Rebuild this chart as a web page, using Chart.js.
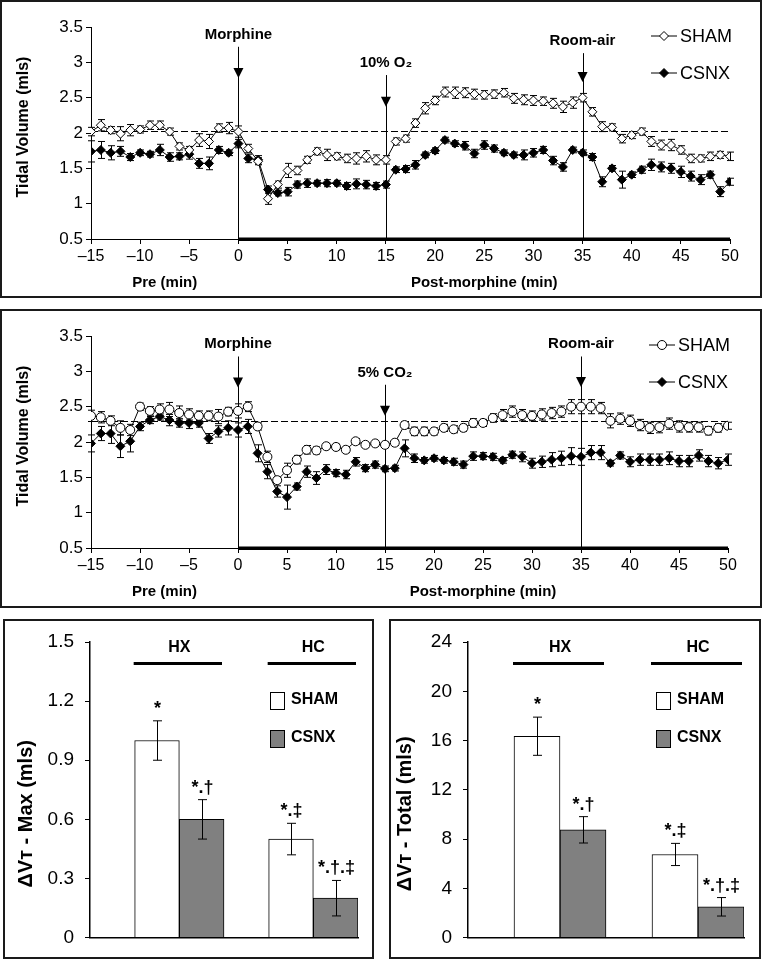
<!DOCTYPE html>
<html>
<head>
<meta charset="utf-8">
<title>Tidal volume responses</title>
<script src="https://cdn.jsdelivr.net/npm/chart.js@4.4.1/dist/chart.umd.min.js"></script>
<style>
  html, body { margin: 0; padding: 0; background: #fff; }
  body { position: relative; width: 762px; height: 960px; overflow: hidden; }
  .box { position: absolute; }
  .frame { position: absolute; border: 2px solid #1a1a1a; box-sizing: border-box; pointer-events: none; }
</style>
</head>
<body>
<div class="box" style="left:0;top:0;width:762px;height:298px"><canvas id="hxChart"></canvas></div>
<div class="box" style="left:0;top:310px;width:762px;height:298px"><canvas id="hcChart"></canvas></div>
<div class="box" style="left:0;top:615px;width:380px;height:345px"><canvas id="maxChart"></canvas></div>
<div class="box" style="left:380px;top:615px;width:382px;height:345px"><canvas id="totalChart"></canvas></div>
<div class="frame" style="left:0;top:0;width:762px;height:298px"></div>
<div class="frame" style="left:0;top:309px;width:762px;height:299px"></div>
<div class="frame" style="left:3px;top:619px;width:371px;height:340px"></div>
<div class="frame" style="left:389px;top:619px;width:372px;height:340px"></div>
<script>
// time axis (min) and tick labels
const minutes = [-15, -14, -13, -12, -11, -10, -9, -8, -7, -6, -5, -4, -3, -2, -1,
    0, 1, 2, 3, 4, 5, 6, 7, 8, 9, 10, 11, 12, 13, 14, 15, 16, 17, 18, 19, 20,
    21, 22, 23, 24, 25, 26, 27, 28, 29, 30, 31, 32, 33, 34, 35, 36, 37, 38, 39, 40,
    41, 42, 43, 44, 45, 46, 47, 48, 49, 50];
const xTicks = [-15, -10, -5, 0, 5, 10, 15, 20, 25, 30, 35, 40, 45, 50];
const vtTicks = [0.5, 1, 1.5, 2, 2.5, 3, 3.5];

// 10% O2 challenge
const hxSham = [2.02, 2.11, 2.04, 1.99, 2.04, 2.05, 2.11, 2.11, 2.02, 1.81, 1.76, 1.9, 1.88, 2.07, 2.07,
    2.02, 1.78, 1.6, 1.07, 1.27, 1.47, 1.47,
    1.62, 1.74, 1.69, 1.67, 1.64, 1.64, 1.67, 1.62, 1.62,
    1.88, 1.92, 2.14, 2.35, 2.46, 2.58, 2.57, 2.57, 2.55, 2.54, 2.55, 2.57, 2.49,
    2.47, 2.46, 2.45, 2.42, 2.37, 2.43, 2.5, 2.3, 2.09, 2.08, 1.92, 1.97, 2.02, 1.88, 1.83, 1.83, 1.76, 1.64, 1.64, 1.67, 1.69, 1.67];
const hxShamErr = [0.06, 0.08, 0.05, 0.1, 0.08, 0.05, 0.06, 0.06, 0.05, 0.05, 0.05, 0.09, 0.1, 0.06, 0.08,
    0.08, 0.06, 0.05, 0.08, 0.05, 0.1, 0.06,
    0.05, 0.05, 0.08, 0.05, 0.06, 0.08, 0.08, 0.07, 0.06,
    0.05, 0.05, 0.06, 0.08, 0.06, 0.07, 0.08, 0.07, 0.07, 0.06, 0.06, 0.06, 0.07,
    0.07, 0.07, 0.06, 0.07, 0.08, 0.08, 0.06, 0.06, 0.07, 0.05, 0.06, 0.05, 0.05, 0.07, 0.07, 0.08, 0.06, 0.06, 0.05, 0.06, 0.05, 0.06];
const hxCsnx = [1.74, 1.76, 1.72, 1.74, 1.66, 1.72, 1.7, 1.76, 1.66, 1.67, 1.7, 1.57, 1.57, 1.76, 1.72,
    1.85, 1.64, 1.62, 1.2, 1.15, 1.17, 1.27,
    1.29, 1.29, 1.29, 1.29, 1.25, 1.28, 1.27, 1.25, 1.27,
    1.48, 1.49, 1.55, 1.69, 1.75, 1.9, 1.85, 1.82, 1.71, 1.83, 1.78, 1.72, 1.69,
    1.69, 1.72, 1.76, 1.61, 1.52, 1.76, 1.72, 1.66, 1.31, 1.5, 1.34, 1.41, 1.48, 1.55, 1.52, 1.5, 1.45, 1.39, 1.34, 1.41, 1.17, 1.31];
const hxCsnxErr = [0.15, 0.12, 0.1, 0.07, 0.05, 0.04, 0.04, 0.08, 0.06, 0.05, 0.07, 0.07, 0.09, 0.05, 0.04,
    0.06, 0.06, 0.06, 0.05, 0.04, 0.06, 0.05,
    0.06, 0.04, 0.05, 0.04, 0.05, 0.07, 0.06, 0.05, 0.05,
    0.04, 0.05, 0.06, 0.04, 0.04, 0.04, 0.04, 0.06, 0.06, 0.06, 0.05, 0.04, 0.04,
    0.07, 0.06, 0.05, 0.06, 0.06, 0.04, 0.04, 0.05, 0.07, 0.04, 0.12, 0.04, 0.05, 0.08, 0.07, 0.07, 0.08, 0.07, 0.07, 0.05, 0.07, 0.05];

// 5% CO2 challenge
const hcSham = [2.37, 2.35, 2.3, 2.2, 2.17, 2.5, 2.44, 2.46, 2.46, 2.41, 2.39, 2.37, 2.37, 2.36, 2.43,
    2.44, 2.5, 2.22, 1.79, 1.46, 1.6, 1.75,
    1.89, 1.88, 1.94, 1.93, 1.89, 2.01, 1.96, 1.98, 1.96,
    1.99, 2.24, 2.15, 2.15, 2.15, 2.2, 2.18, 2.2, 2.27, 2.27, 2.34, 2.38, 2.43,
    2.38, 2.37, 2.39, 2.41, 2.43, 2.5, 2.5, 2.5, 2.48, 2.3, 2.33, 2.3, 2.24, 2.2, 2.21, 2.26, 2.22, 2.21, 2.21, 2.16, 2.2, 2.23];
const hcShamErr = [0.08, 0.08, 0.07, 0.1, 0.08, 0.05, 0.06, 0.08, 0.1, 0.1, 0.08, 0.07, 0.07, 0.1, 0.06,
    0.1, 0.07, 0.05, 0.08, 0.04, 0.1, 0.06,
    0.06, 0.05, 0.04, 0.04, 0.04, 0.04, 0.04, 0.04, 0.04,
    0.04, 0.05, 0.06, 0.06, 0.05, 0.05, 0.05, 0.05, 0.06, 0.05, 0.06, 0.08, 0.08,
    0.08, 0.07, 0.08, 0.08, 0.08, 0.1, 0.1, 0.1, 0.08, 0.1, 0.08, 0.08, 0.08, 0.08, 0.08, 0.08, 0.08, 0.07, 0.07, 0.06, 0.06, 0.05];
const hcCsnx = [1.98, 2.12, 2.12, 1.94, 2.01, 2.22, 2.31, 2.36, 2.31, 2.27, 2.27, 2.27, 2.05, 2.15, 2.2,
    2.17, 2.22, 1.84, 1.58, 1.3, 1.22, 1.37,
    1.58, 1.49, 1.61, 1.56, 1.54, 1.72, 1.63, 1.68, 1.62,
    1.63, 1.91, 1.77, 1.74, 1.77, 1.74, 1.72, 1.68, 1.8, 1.8, 1.79, 1.74, 1.82,
    1.79, 1.7, 1.72, 1.75, 1.77, 1.8, 1.79, 1.85, 1.85, 1.7, 1.81, 1.72, 1.75, 1.75, 1.75, 1.77, 1.73, 1.73, 1.81, 1.73, 1.7, 1.75];
const hcCsnxErr = [0.12, 0.1, 0.14, 0.16, 0.15, 0.06, 0.05, 0.05, 0.08, 0.06, 0.08, 0.06, 0.07, 0.08, 0.1,
    0.1, 0.1, 0.12, 0.1, 0.08, 0.17, 0.05,
    0.08, 0.09, 0.07, 0.05, 0.06, 0.06, 0.05, 0.05, 0.04,
    0.04, 0.12, 0.06, 0.04, 0.04, 0.04, 0.05, 0.05, 0.06, 0.05, 0.05, 0.04, 0.05,
    0.07, 0.07, 0.08, 0.1, 0.1, 0.12, 0.12, 0.1, 0.1, 0.04, 0.05, 0.07, 0.08, 0.08, 0.08, 0.09, 0.08, 0.08, 0.08, 0.08, 0.08, 0.08];

const hxBaseline = 2.03;
const hcBaseline = 2.3;
const hxEvents = [
    { at: 0, label: 'Morphine', lineTop: 3.22, arrow: 2.78 },
    { at: 15, label: '10% O\u2082', lineTop: 2.82, arrow: 2.37 },
    { at: 35, label: 'Room-air', lineTop: 3.13, arrow: 2.72 }
];
const hcEvents = [
    { at: 0, label: 'Morphine', lineTop: 3.21, arrow: 2.77 },
    { at: 15, label: '5% CO\u2082', lineTop: 2.81, arrow: 2.37 },
    { at: 35, label: 'Room-air', lineTop: 3.21, arrow: 2.78 }
];
const phaseLabels = [{ at: -7.5, text: 'Pre (min)' }, { at: 25, text: 'Post-morphine (min)' }];
const postWindow = [0, 50];

// summary bars
const groups = ['HX', 'HC'];
const maxSham = [1.0, 0.5];
const maxShamErr = [0.1, 0.08];
const maxCsnx = [0.6, 0.2];
const maxCsnxErr = [0.1, 0.09];
const totalSham = [16.35, 6.75];
const totalShamErr = [1.55, 0.9];
const totalCsnx = [8.75, 2.5];
const totalCsnxErr = [1.07, 0.75];
const shamMarks = ['*', '*.\u2021'];
const csnxMarks = ['*.\u2020', '*.\u2020.\u2021'];
const maxTicks = [0, 0.3, 0.6, 0.9, 1.2, 1.5];
const totalTicks = [0, 4, 8, 12, 16, 20, 24];

const BLACK = '#000';
const SANS = '"Liberation Sans", Arial, sans-serif';

const drawMarker = (ctx, style, r, fill, x, y) => {
    ctx.fillStyle = fill;
    ctx.strokeStyle = BLACK;
    ctx.lineWidth = 1;
    Chart.helpers.drawPoint(ctx, { pointStyle: style, radius: r, borderWidth: 1, rotation: 0 }, x, y);
};

const lineDecor = {
    id: 'lineDecor',
    beforeDatasetsDraw(chart, args, o) {
        const { ctx, chartArea: a, scales: { x, y } } = chart;
        ctx.save();
        ctx.strokeStyle = BLACK;
        ctx.lineWidth = 1;
        ctx.setLineDash([7, 3]);
        const by = Math.round(y.getPixelForValue(o.baseline)) + 0.5;
        ctx.beginPath(); ctx.moveTo(a.left, by); ctx.lineTo(a.right, by); ctx.stroke();
        ctx.setLineDash([]);
        o.events.forEach(ev => {
            const ex = Math.round(x.getPixelForValue(ev.at)) + 0.5;
            ctx.beginPath(); ctx.moveTo(ex, y.getPixelForValue(ev.lineTop)); ctx.lineTo(ex, a.bottom); ctx.stroke();
        });
        chart.data.datasets.forEach(ds => {
            ds.errors.forEach((e, i) => {
                const pt = ds.data[i];
                const px = Math.round(x.getPixelForValue(pt.x)) + 0.5;
                const t = y.getPixelForValue(pt.y + e), b = y.getPixelForValue(pt.y - e);
                ctx.beginPath();
                ctx.moveTo(px, t); ctx.lineTo(px, b);
                ctx.moveTo(px - 3.5, t); ctx.lineTo(px + 3.5, t);
                ctx.moveTo(px - 3.5, b); ctx.lineTo(px + 3.5, b);
                ctx.stroke();
            });
        });
        ctx.restore();
    },
    afterDraw(chart, args, o) {
        const { ctx, chartArea: a, scales: { x, y } } = chart;
        ctx.save();
        ctx.fillStyle = BLACK;
        // treatment window on the axis
        const x0 = x.getPixelForValue(postWindow[0]), x1 = x.getPixelForValue(postWindow[1]);
        ctx.fillRect(x0, a.bottom - 1.5, x1 - x0, 3.5);
        // arrows and event labels
        ctx.font = 'bold 15px ' + SANS;
        ctx.textAlign = 'center';
        ctx.textBaseline = 'alphabetic';
        o.events.forEach(ev => {
            const ex = x.getPixelForValue(ev.at);
            const tip = y.getPixelForValue(ev.arrow);
            ctx.beginPath();
            ctx.moveTo(ex - 5, tip - 10); ctx.lineTo(ex + 5, tip - 10); ctx.lineTo(ex, tip); ctx.closePath();
            ctx.fill();
            ctx.fillText(ev.label, ex, y.getPixelForValue(ev.lineTop) - 8);
        });
        // phase labels under axis
        phaseLabels.forEach(p => ctx.fillText(p.text, x.getPixelForValue(p.at), a.bottom + 48));
        // y title
        ctx.save();
        ctx.translate(24, (a.top + a.bottom) / 2 - 6);
        ctx.rotate(-Math.PI / 2);
        ctx.textBaseline = 'middle';
        ctx.font = 'bold 16px ' + SANS;
        ctx.fillText('Tidal Volume (mls)', 0, 0);
        ctx.restore();
        // legend
        ctx.font = '18px ' + SANS;
        ctx.textAlign = 'left';
        ctx.textBaseline = 'middle';
        chart.data.datasets.forEach((ds, i) => {
            const ly = a.top + 9 + i * 37;
            const lx = a.right - 79;
            ctx.strokeStyle = BLACK; ctx.lineWidth = 1;
            ctx.beginPath(); ctx.moveTo(lx, ly); ctx.lineTo(lx + 26, ly); ctx.stroke();
            drawMarker(ctx, ds.pointStyle, ds.pointRadius, ds.pointBackgroundColor, lx + 13, ly);
            ctx.fillStyle = BLACK;
            ctx.fillText(ds.label, lx + 29, ly + 1);
        });
        ctx.restore();
    }
};

const makeLineChart = (id, sham, shamErr, csnx, csnxErr, shamStyle, csnxStyle, decor, pad) => new Chart(document.getElementById(id), {
    type: 'line',
    data: {
        datasets: [
            { label: 'SHAM', data: minutes.map((m, i) => ({ x: m, y: sham[i] })), errors: shamErr,
              borderColor: BLACK, borderWidth: 1, pointStyle: shamStyle, pointRadius: 4.5,
              pointBackgroundColor: '#fff', pointBorderColor: BLACK, pointBorderWidth: 1 },
            { label: 'CSNX', data: minutes.map((m, i) => ({ x: m, y: csnx[i] })), errors: csnxErr,
              borderColor: BLACK, borderWidth: 1, pointStyle: csnxStyle, pointRadius: 4.5,
              pointBackgroundColor: BLACK, pointBorderColor: BLACK, pointBorderWidth: 1 }
        ]
    },
    options: {
        responsive: true,
        maintainAspectRatio: false,
        animation: false,
        events: [],
        layout: { padding: pad },
        plugins: { legend: { display: false }, tooltip: { enabled: false }, lineDecor: decor },
        scales: {
            x: {
                type: 'linear', min: -15, max: 50,
                afterBuildTicks: s => { s.ticks = xTicks.map(v => ({ value: v })); },
                afterFit: s => { s.height = 30; },
                ticks: { color: BLACK, font: { family: SANS, size: 16 }, padding: 3, maxRotation: 0,
                         callback: v => (v < 0 ? '\u2013' + Math.abs(v) : String(v)) },
                grid: { drawOnChartArea: false, tickLength: 5, color: BLACK },
                border: { color: BLACK, width: 1 }
            },
            y: {
                min: 0.5, max: 3.5,
                afterBuildTicks: s => { s.ticks = vtTicks.map(v => ({ value: v })); },
                afterFit: s => { s.width = 60; },
                ticks: { color: BLACK, font: { family: SANS, size: 17 }, padding: 3, callback: v => String(v) },
                grid: { drawOnChartArea: false, tickLength: 5, color: BLACK },
                border: { color: BLACK, width: 1 }
            }
        }
    },
    plugins: [lineDecor]
});

makeLineChart('hxChart', hxSham, hxShamErr, hxCsnx, hxCsnxErr, 'rectRot', 'rectRot',
    { baseline: hxBaseline, events: hxEvents }, { left: 31, right: 32, top: 27, bottom: 29 });
makeLineChart('hcChart', hcSham, hcShamErr, hcCsnx, hcCsnxErr, 'circle', 'rectRot',
    { baseline: hcBaseline, events: hcEvents }, { left: 31, right: 34, top: 26, bottom: 30 });

const barDecor = {
    id: 'barDecor',
    afterDatasetsDraw(chart, args, o) {
        const { ctx, chartArea: a, scales: { y } } = chart;
        const shamMeta = chart.getDatasetMeta(1), csnxMeta = chart.getDatasetMeta(2);
        ctx.save();
        ctx.strokeStyle = BLACK; ctx.fillStyle = BLACK; ctx.lineWidth = 1;
        ctx.font = 'bold 18px ' + SANS;
        ctx.textAlign = 'center';
        ctx.textBaseline = 'alphabetic';
        [1, 2].forEach(di => {
            const ds = chart.data.datasets[di];
            const meta = chart.getDatasetMeta(di);
            ds.data.forEach((v, i) => {
                const px = Math.round(meta.data[i].x) + 0.5;
                const t = y.getPixelForValue(v + ds.errors[i]), b = y.getPixelForValue(v - ds.errors[i]);
                ctx.beginPath();
                ctx.moveTo(px, t); ctx.lineTo(px, b);
                ctx.moveTo(px - 4.5, t); ctx.lineTo(px + 4.5, t);
                ctx.moveTo(px - 4.5, b); ctx.lineTo(px + 4.5, b);
                ctx.stroke();
                ctx.fillText(ds.marks[i], px, t - 7);
            });
        });
        // group headers
        ctx.font = 'bold 16px ' + SANS;
        ctx.textBaseline = 'middle';
        groups.forEach((g, i) => {
            const s = shamMeta.data[i], c = csnxMeta.data[i];
            const l = s.x - s.width / 2, r = c.x + c.width / 2;
            ctx.fillText(g, (l + r) / 2, a.top + 6);
            ctx.fillRect(l - 1, a.top + 20, r - l - 1, 3);
        });
        // legend boxes
        ctx.textAlign = 'left';
        ctx.font = 'bold 16px ' + SANS;
        [1, 2].forEach((di, k) => {
            const ds = chart.data.datasets[di];
            const bx = a.right - 88, byTop = a.top + 50 + k * 38;
            ctx.fillStyle = ds.backgroundColor;
            ctx.fillRect(bx, byTop, 14, 17);
            ctx.strokeRect(bx + 0.5, byTop + 0.5, 14, 17);
            ctx.fillStyle = BLACK;
            ctx.fillText(ds.label, bx + 21, byTop + 8);
        });
        // y title
        ctx.translate(o.titleX, (a.top + a.bottom) / 2 + 24);
        ctx.rotate(-Math.PI / 2);
        ctx.textAlign = 'center';
        ctx.font = 'bold 20px ' + SANS;
        ctx.fillText(o.title, 0, 0);
        ctx.restore();
    }
};

const makeBarChart = (id, sham, shamErr, csnx, csnxErr, ticks, decor, pad, yWidth) => new Chart(document.getElementById(id), {
    type: 'bar',
    data: {
        labels: groups,
        datasets: [
            { label: 'gap', data: groups.map(() => null) },
            { label: 'SHAM', data: sham, errors: shamErr, marks: shamMarks, backgroundColor: '#fff', borderColor: BLACK, borderWidth: 1 },
            { label: 'CSNX', data: csnx, errors: csnxErr, marks: csnxMarks, backgroundColor: '#808080', borderColor: BLACK, borderWidth: 1 }
        ]
    },
    options: {
        responsive: true,
        maintainAspectRatio: false,
        animation: false,
        events: [],
        categoryPercentage: 1,
        barPercentage: 1,
        layout: { padding: pad },
        plugins: { legend: { display: false }, tooltip: { enabled: false }, barDecor: decor },
        scales: {
            x: {
                afterFit: s => { s.height = 4; },
                ticks: { display: false },
                grid: { display: false },
                border: { color: BLACK, width: 1.5 }
            },
            y: {
                min: ticks[0], max: ticks[ticks.length - 1],
                afterBuildTicks: s => { s.ticks = ticks.map(v => ({ value: v })); },
                afterFit: s => { s.width = yWidth; },
                ticks: { color: BLACK, font: { family: SANS, size: 19 }, padding: 11, callback: v => String(v) },
                grid: { drawOnChartArea: false, tickLength: 5, color: BLACK },
                border: { color: BLACK, width: 1.5 }
            }
        }
    },
    plugins: [barDecor]
});

makeBarChart('maxChart', maxSham, maxShamErr, maxCsnx, maxCsnxErr, maxTicks,
    { title: '\u0394V\u1D1B - Max (mls)', titleX: 26 }, { left: 13, right: 22, top: 27, bottom: 15 }, 77);
makeBarChart('totalChart', totalSham, totalShamErr, totalCsnx, totalCsnxErr, totalTicks,
    { title: '\u0394V\u1D1B - Total (mls)', titleX: 25 }, { left: 13, right: 18, top: 27, bottom: 15 }, 75);
</script>
</body>
</html>
